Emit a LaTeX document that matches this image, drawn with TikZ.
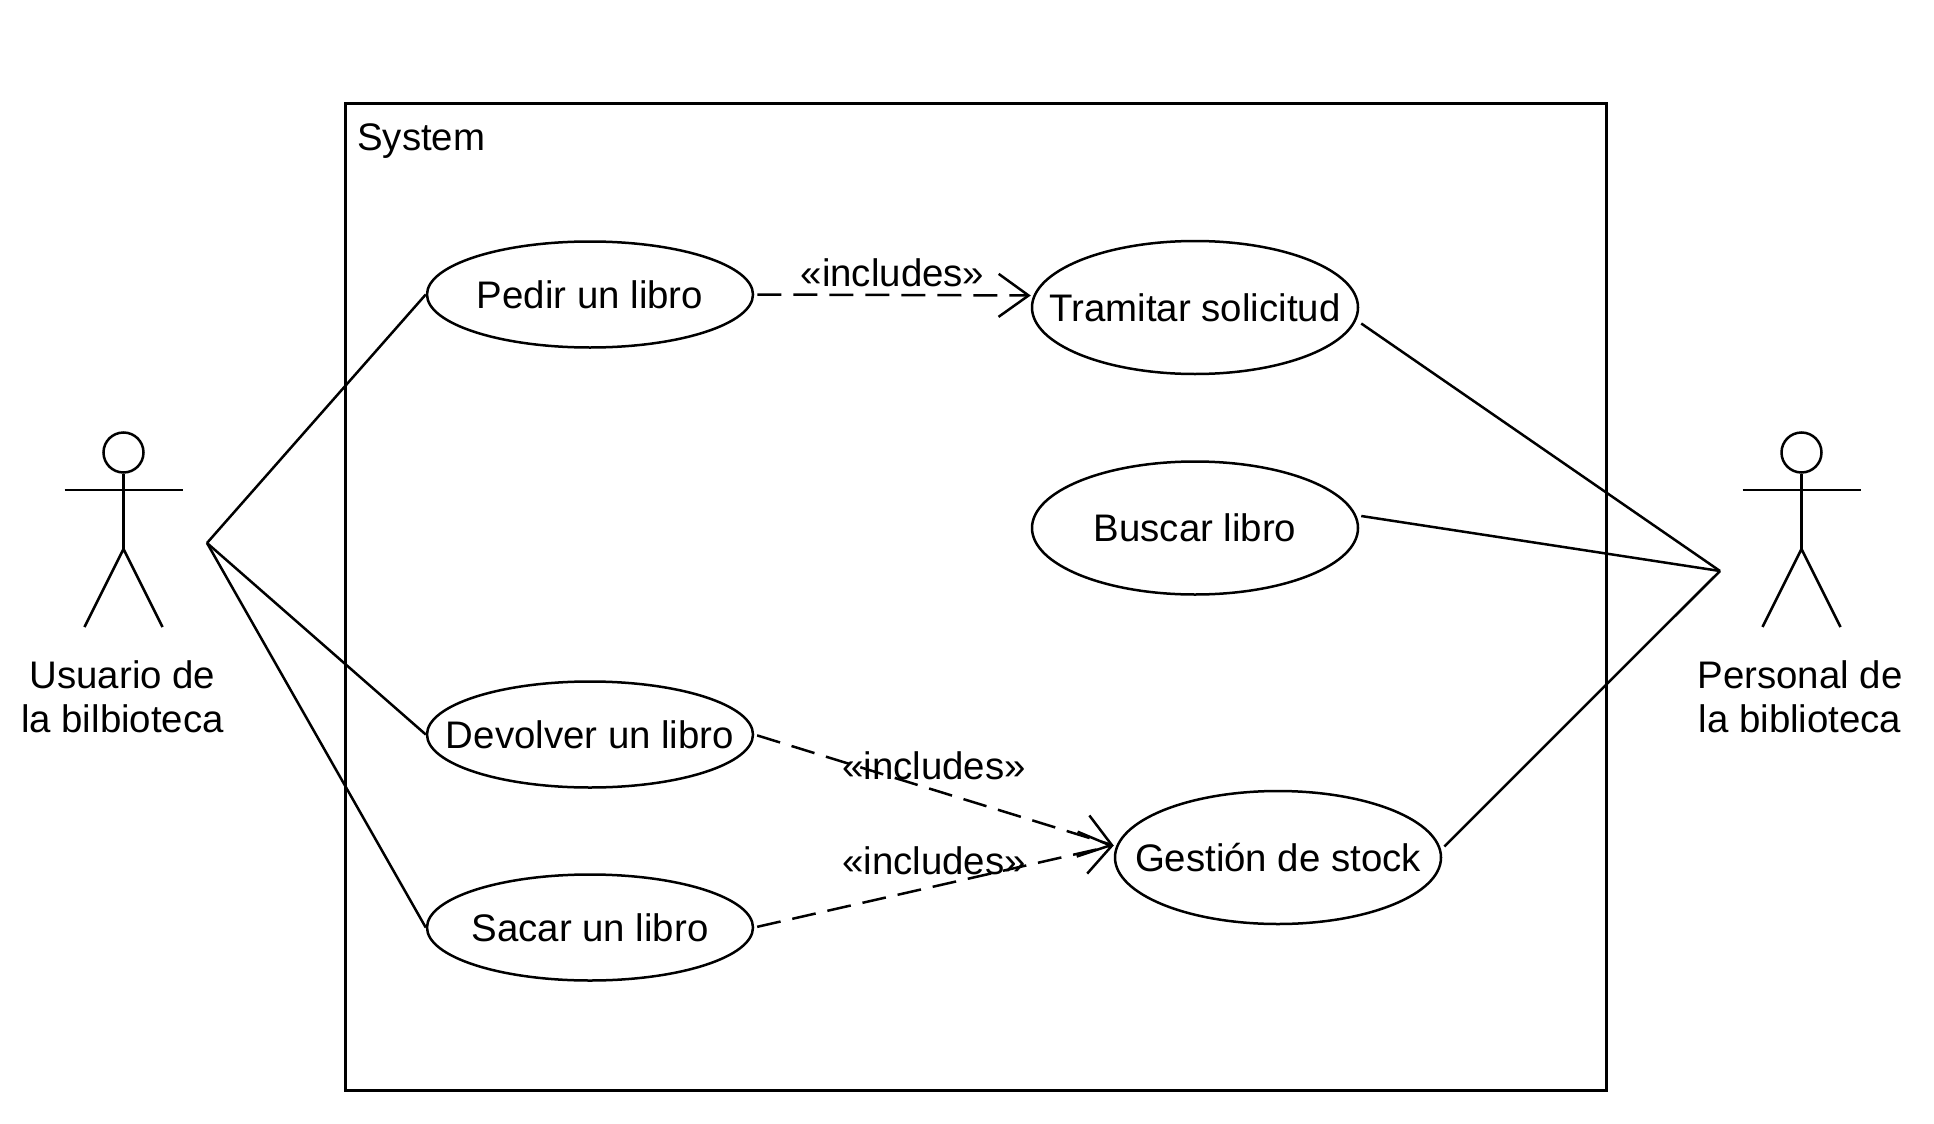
\documentclass[tikz,border=0pt]{standalone}
\usepackage{fontspec}
\setmainfont{Liberation Sans}
\usetikzlibrary{arrows.meta, positioning, shapes.geometric}

\newcommand{\uclabel}[1]{\makebox[0pt]{#1}}

\begin{document}
\begin{tikzpicture}[x=0.5pt, y=-0.5pt, line width=1.25pt,
    usecase/.style={draw, ellipse, minimum width=163pt, minimum height=53pt, inner sep=0pt, font=\fontsize{19.2}{22}\selectfont},
    bigcase/.style={usecase, minimum height=66.5pt},
    actorlabel/.style={align=center, inner sep=0pt, font=\fontsize{19.2}{22}\selectfont},
    inc/.style={draw, dash pattern=on 12pt off 6pt, -{Straight Barb[length=15pt, width=21.5pt]}, shorten <=1.5pt},
    inclabel/.style={midway, above, inner sep=3pt, font=\fontsize{19.2}{22}\selectfont},
    link/.style={draw}]

\useasboundingbox (0, 0) rectangle (1934, 1124);

% System frame
\node[draw, anchor=north west, minimum width=630.5pt, minimum height=493.5pt, inner sep=0pt] (system) at (344, 102) {};
\node[anchor=west, inner sep=0pt, font=\fontsize{19.2}{22}\selectfont] (systemlabel) at ([shift={(6pt,-19.5pt)}]system.north west) {System};

% Actors
\foreach \x/\n in {123.5/usuario, 1801.5/personal} {
    \node[draw, circle, minimum size=20pt, inner sep=0pt] (\n head) at (\x, 452.5) {};
    \coordinate (\n hip) at (\x, 549);
    \draw (\n head.south) -- (\n hip);
    \draw (\x-59, 490) -- (\x+59, 490);
    \draw (\x-39, 627) -- (\n hip) -- (\x+39, 627);
}
\node[actorlabel, anchor=north] (usuariolabel) at (122.5, 659) {Usuario de\\la bilbioteca};
\node[actorlabel, anchor=north] (personallabel) at (1800, 659) {Personal de\\la biblioteca};

% Use cases
\node[usecase] (pedir) at (590, 294.5) {\uclabel{Pedir un libro}};
\node[usecase] (devolver) at (590, 734.5) {\uclabel{Devolver un libro}};
\node[usecase] (sacar) at (590, 927.5) {\uclabel{Sacar un libro}};
\node[bigcase] (tramitar) at (1195, 307.5) {\uclabel{Tramitar solicitud}};
\node[bigcase] (buscar) at (1195, 528) {\uclabel{Buscar libro}};
\node[bigcase] (gestion) at (1278, 857.5) {\uclabel{Gestión de stock}};

% Actor associations
\coordinate (usuariolink) at (207, 543);
\coordinate (personallink) at (1720, 571);
\draw[link] (usuariolink) -- (pedir.west);
\draw[link] (usuariolink) -- (devolver.west);
\draw[link] (usuariolink) -- (sacar.west);
\draw[link] ([shift={(1pt,-8pt)}]tramitar.east) -- (personallink);
\draw[link] ([shift={(1pt,6pt)}]buscar.east) -- (personallink);
\draw[link] ([shift={(1pt,5.5pt)}]gestion.east) -- (personallink);

% Includes
\draw[inc] (pedir.east) -- node[inclabel, yshift=0.5pt] {«includes»} ([yshift=6pt]tramitar.west);
\draw[inc] (devolver.east) -- node[inclabel, yshift=1.5pt] {«includes»} ([yshift=6pt]gestion.west);
\draw[inc] (sacar.east) -- node[inclabel, yshift=2pt] {«includes»} ([yshift=6pt]gestion.west);

\end{tikzpicture}
\end{document}
